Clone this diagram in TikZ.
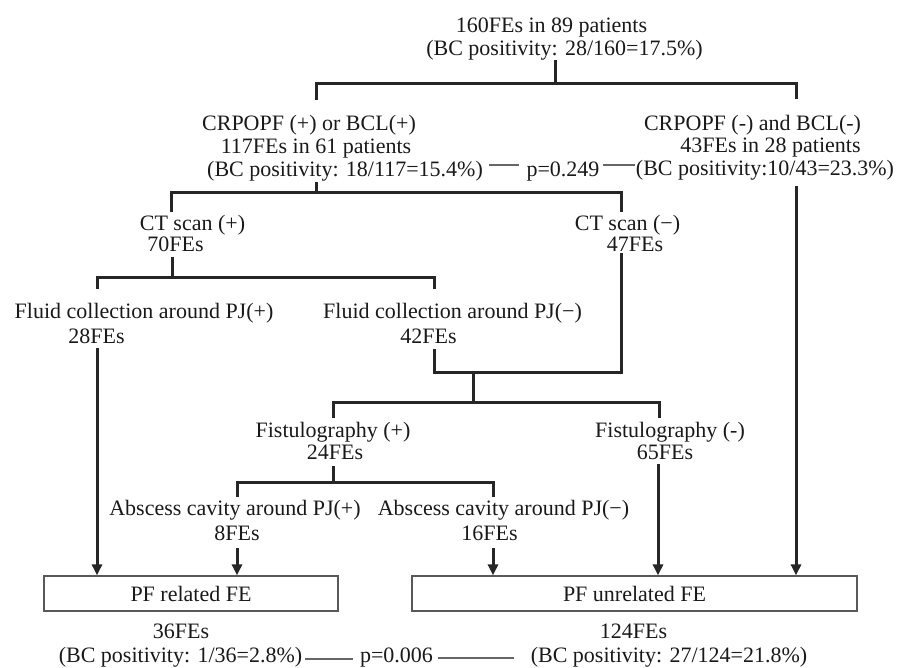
\documentclass[tikz,border=0pt]{standalone}
\usepackage{fontspec}
\setmainfont{Liberation Serif}
\usetikzlibrary{arrows.meta}
\begin{document}
\begin{tikzpicture}[x=1pt,y=-1pt]
\tikzset{
  lbl/.style={anchor=base, inner sep=0pt, text=black!90, font=\fontsize{22}{26}\selectfont},
  br/.style={line width=3pt, draw=black!85, line join=miter},
  arr/.style={line width=3pt, draw=black!85, -{Triangle[length=11pt,width=10pt]}},
  febox/.style={draw=black!65, line width=1.2pt, fill=white, inner sep=0pt, font=\fontsize{22}{26}\selectfont, text=black!90},
  pline/.style={line width=1.2pt, draw=black!60},
}
\useasboundingbox (0,0) rectangle (912,667);

% ---------- labels ----------
\node[lbl] (top1) at (551.5,32) {160FEs in 89 patients};
\node[lbl] (top2) at (564.5,55) {(BC positivity: 28/160=17.5\%)};

\node[lbl] (c1) at (309,130) {CRPOPF (+) or BCL(+)};
\node[lbl] (c2) at (316,153) {117FEs in 61 patients};
\node[lbl] (c3) at (345,176) {(BC positivity: 18/117=15.4\%)};

\node[lbl] (p1) at (563,176) {p=0.249};

\node[lbl] (d1) at (752.5,130) {CRPOPF (-) and BCL(-)};
\node[lbl] (d2) at (770.5,152) {43FEs in 28 patients};
\node[lbl] (d3) at (765,175) {(BC positivity:10/43=23.3\%)};

\node[lbl] (ctp1) at (192.5,230.5) {CT scan (+)};
\node[lbl] (ctp2) at (175.5,251) {70FEs};
\node[lbl] (ctm1) at (627.5,230.5) {CT scan (−)};
\node[lbl] (ctm2) at (635,251) {47FEs};

\node[lbl] (fp1) at (144,318) {Fluid collection around PJ(+)};
\node[lbl] (fp2) at (96.5,343) {28FEs};
\node[lbl] (fm1) at (452.5,318) {Fluid collection around PJ(−)};
\node[lbl] (fm2) at (428.5,343) {42FEs};

\node[lbl] (gp1) at (333,437) {Fistulography (+)};
\node[lbl] (gp2) at (335,459) {24FEs};
\node[lbl] (gm1) at (670,437) {Fistulography (-)};
\node[lbl] (gm2) at (665,459) {65FEs};

\node[lbl] (ap1) at (235,515) {Abscess cavity around PJ(+)};
\node[lbl] (ap2) at (237,540) {8FEs};
\node[lbl] (am1) at (503.5,515) {Abscess cavity around PJ(−)};
\node[lbl] (am2) at (489.5,540) {16FEs};

\node[febox, minimum width=294pt, minimum height=35pt] (boxL) at (191,593.5) {PF related FE};
\node[febox, minimum width=445pt, minimum height=35pt] (boxR) at (634.5,593.5) {PF unrelated FE};

\node[lbl] (r1) at (181,638) {36FEs};
\node[lbl] (r2) at (180.5,662) {(BC positivity: 1/36=2.8\%)};
\node[lbl] (p2) at (396.5,662) {p=0.006};
\node[lbl] (u1) at (633.5,638) {124FEs};
\node[lbl] (u2) at (669,662) {(BC positivity: 27/124=21.8\%)};

% ---------- junction coordinates ----------
\coordinate (j0) at (555,83);
\coordinate (jL) at (316,83);
\coordinate (jR) at (796,83);
\coordinate (c1in) at (316,100);
\coordinate (d1in) at (796,99);
\coordinate (d3out) at (796,186);

\coordinate (c3out) at (316,182);
\coordinate (k0) at (316,192);
\coordinate (kL) at (171,192);
\coordinate (kR) at (621,192);
\coordinate (ctpin) at (171,212);
\coordinate (ctmin) at (621,212);

\coordinate (ctpout) at (172,257);
\coordinate (m0) at (172,277);
\coordinate (mL) at (97,277);
\coordinate (mR) at (434,277);
\coordinate (fpin) at (97,289);
\coordinate (fmin) at (434,289);

\coordinate (fpout) at (97,348);
\coordinate (fmout) at (434,349);
\coordinate (ctmout) at (621,253);
\coordinate (n0) at (434,372);
\coordinate (n1) at (621,372);
\coordinate (nm) at (473,372);
\coordinate (q0) at (473,402);
\coordinate (qL) at (333,402);
\coordinate (qR) at (659,402);
\coordinate (gpin) at (333,418);
\coordinate (gmin) at (659,418);

\coordinate (gpout) at (333,466);
\coordinate (s0) at (333,482);
\coordinate (sL) at (237,482);
\coordinate (sR) at (493,482);
\coordinate (apin) at (237,497);
\coordinate (amin) at (493,497);
\coordinate (gmout) at (658,464);
\coordinate (apout) at (237,548);
\coordinate (amout) at (493,548);

% ---------- connectors ----------
\draw[br] (top2.south -| j0) -- (j0);
\draw[br] (c1in) -- (jL) -- (jR) -- (d1in);

\draw[br] (c3out) -- (k0);
\draw[br] (ctpin) -- (kL) -- (kR) -- (ctmin);

\draw[br] (ctpout) -- (m0);
\draw[br] (fpin) -- (mL) -- (mR) -- (fmin);

\draw[br] (ctmout) -- (n1) -- (n0) -- (fmout);
\draw[br] (nm) -- (q0);
\draw[br] (gpin) -- (qL) -- (qR) -- (gmin);

\draw[br] (gpout) -- (s0);
\draw[br] (apin) -- (sL) -- (sR) -- (amin);

\draw[arr] (fpout) -- (fpout |- boxL.north);
\draw[arr] (apout) -- (apout |- boxL.north);
\draw[arr] (amout) -- (amout |- boxR.north);
\draw[arr] (gmout) -- (gmout |- boxR.north);
\draw[arr] (d3out) -- (d3out |- boxR.north);

% p-value lines
\draw[pline] ([xshift=6pt]c3.east |- 0,165) -- ([xshift=-7pt]p1.west |- 0,165);
\draw[pline] ([xshift=3pt]p1.east |- 0,165) -- ([xshift=-1pt]d3.west |- 0,165);
\draw[pline] ([xshift=3pt]r2.east |- 0,659) -- ([xshift=-7pt]p2.west |- 0,659);
\draw[pline] ([xshift=5pt]p2.east |- 0,658) -- ([xshift=-17pt]u2.west |- 0,658);
\end{tikzpicture}
\end{document}
